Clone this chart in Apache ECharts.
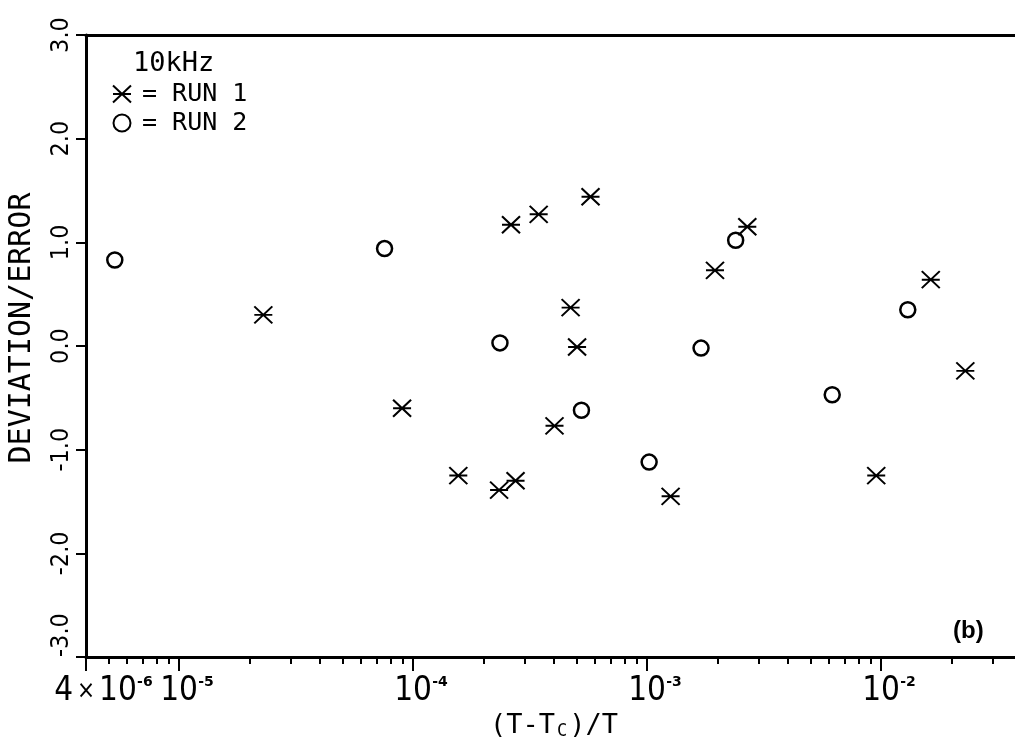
<!DOCTYPE html>
<html>
<head>
<meta charset="utf-8">
<script src="https://cdn.jsdelivr.net/npm/echarts@6/dist/echarts.min.js"></script>
<style>
  html, body { margin: 0; padding: 0; background: #ffffff; }
  #chart { width: 1015px; height: 742px; }
</style>
</head>
<body>
<div id="chart"></div>
<script>
// values
const run1X = [2.29e-5, 8.97e-5, 1.56e-4, 2.33e-4, 2.62e-4, 2.74e-4, 3.44e-4, 4.02e-4, 4.71e-4, 5.02e-4, 5.73e-4, 1.26e-3, 1.95e-3, 2.68e-3, 9.53e-3, 1.63e-2, 2.29e-2]
const run1Y = [0.30, -0.60, -1.25, -1.39, 1.17, -1.30, 1.27, -0.77, 0.37, -0.01, 1.44, -1.45, 0.73, 1.15, -1.25, 0.64, -0.24]
const run2X = [5.31e-6, 7.55e-5, 2.35e-4, 5.24e-4, 1.02e-3, 1.70e-3, 2.39e-3, 6.18e-3, 1.30e-2]
const run2Y = [0.83, 0.94, 0.03, -0.62, -1.12, -0.02, 1.02, -0.47, 0.35]

const majorTicks = [4e-6, 1e-5, 1e-4, 1e-3, 1e-2]
const decadeLabels = [1e-5, 1e-4, 1e-3, 1e-2]
const minLabel = [4e-6]
const minorTicks = []
for (let e = -6; e <= -2; e++) {
  for (let m = 2; m <= 9; m++) {
    const v = m * Math.pow(10, e)
    if (v > 4e-6 && v <= 4e-2) minorTicks.push(v)
  }
}

const FONT_NARROW = "'Liberation Sans Narrow', 'DejaVu Sans Condensed', 'Liberation Sans', sans-serif"
const FONT_MONO = "'DejaVu Sans Mono', monospace"

const asterisk = 'path://M0,0L18,17M18,0L0,17M0,8.5L18,8.5'

const chart = echarts.init(document.getElementById('chart'))

const labelRich = {
  p: { width: 16 },
  q: { width: 35 },
  a: { fontFamily: FONT_NARROW, fontSize: 33, color: '#000' },
  x: { fontFamily: FONT_NARROW, fontSize: 24, color: '#000', padding: [0, 4, 0, 4] },
  b: { fontFamily: FONT_NARROW, fontSize: 33, color: '#000' },
  s: { fontFamily: 'DejaVu Sans', fontSize: 14, fontWeight: 'bold', color: '#000', width: 16, verticalAlign: 'top' }
}

const axisBase = {
  type: 'log',
  logBase: 10,
  min: 4e-6,
  max: 4e-2,
  position: 'bottom',
  splitLine: { show: false }
}

const options = {
  animation: false,
  backgroundColor: '#ffffff',
  grid: {
    left: 86,
    top: 35,
    right: -7,
    bottom: 85,
    outerBoundsMode: 'none'
  },
  title: {
    text: '10kHz',
    left: 133,
    top: 50,
    padding: 0,
    textStyle: { fontFamily: FONT_MONO, fontSize: 27, fontWeight: 'normal', color: '#000' }
  },
  legend: {
    orient: 'vertical',
    left: 112,
    top: 81,
    padding: 0,
    itemGap: 3,
    itemWidth: 18,
    itemHeight: 17,
    selectedMode: false,
    itemStyle: { borderWidth: 2 },
    textStyle: { fontFamily: FONT_MONO, fontSize: 25, lineHeight: 26, color: '#000', padding: [0, 0, 0, 6] },
    data: ['= RUN 1', '= RUN 2']
  },
  xAxis: [
    // data axis, short ticks
    Object.assign({}, axisBase, {
      axisLine: { show: true, onZero: false, lineStyle: { color: '#000', width: 3 } },
      axisTick: { show: true, length: 7, lineStyle: { color: '#000', width: 2 }, customValues: minorTicks },
      axisLabel: { show: false }
    }),
    // long ticks + decade labels
    Object.assign({}, axisBase, {
      name: '{m|(T-T}{c|C}{m|)/T}',
      nameLocation: 'middle',
      nameGap: 48,
      nameTextStyle: {
        rich: {
          m: { fontFamily: FONT_MONO, fontSize: 27, color: '#000' },
          c: { fontFamily: FONT_MONO, fontSize: 17, color: '#000', verticalAlign: 'bottom', padding: [0, 2, 0, 2] }
        }
      },
      axisLine: { show: false, onZero: false },
      axisTick: { show: true, length: 14, lineStyle: { color: '#000', width: 2 }, customValues: majorTicks },
      axisLabel: {
        show: true,
        margin: 18,
        customValues: decadeLabels,
        formatter: v => '{p|}{b|10}{s|' + Math.round(Math.log10(v)) + '}',
        rich: labelRich
      }
    }),
    // 4x10^-6 label at the left end
    Object.assign({}, axisBase, {
      axisLine: { show: false, onZero: false },
      axisTick: { show: false },
      axisLabel: {
        show: true,
        margin: 18,
        showMinLabel: true,
        customValues: minLabel,
        formatter: () => '{q|}{a|4}{x|×}{b|10}{s|-6}',
        rich: labelRich
      }
    }),
    // frame line on top
    Object.assign({}, axisBase, {
      position: 'top',
      axisLine: { show: true, onZero: false, lineStyle: { color: '#000', width: 3 } },
      axisTick: { show: false },
      axisLabel: { show: false }
    })
  ],
  yAxis: {
    type: 'value',
    min: -3,
    max: 3,
    interval: 1,
    name: 'DEVIATION/ERROR',
    nameLocation: 'middle',
    nameGap: 49,
    nameTextStyle: { fontFamily: FONT_MONO, fontSize: 30, color: '#000', padding: [0, 0, 0, 36] },
    axisLine: { show: true, lineStyle: { color: '#000', width: 3 } },
    axisTick: { show: true, length: 10, lineStyle: { color: '#000', width: 2 } },
    axisLabel: {
      rotate: 90,
      margin: 12,
      showMinLabel: true,
      alignMinLabel: 'left',
      fontFamily: FONT_NARROW,
      fontSize: 25,
      color: '#000',
      formatter: v => v.toFixed(1)
    },
    splitLine: { show: false }
  },
  graphic: [
    {
      type: 'text',
      left: 953,
      top: 619,
      style: { text: '(b)', fontFamily: "'Liberation Sans', sans-serif", fontWeight: 'bold', fontSize: 24, fill: '#000' }
    }
  ],
  series: [
    {
      name: '= RUN 1',
      type: 'scatter',
      xAxisIndex: 0,
      symbol: asterisk,
      symbolSize: [18, 17],
      silent: true,
      itemStyle: { color: 'transparent', borderColor: '#000', borderWidth: 2, opacity: 1 },
      data: run1X.map((x, i) => [x, run1Y[i]])
    },
    {
      name: '= RUN 2',
      type: 'scatter',
      xAxisIndex: 0,
      symbol: 'circle',
      symbolSize: 15,
      silent: true,
      itemStyle: { color: 'transparent', borderColor: '#000', borderWidth: 2.5, opacity: 1 },
      data: run2X.map((x, i) => [x, run2Y[i]])
    }
  ]
}

chart.setOption(options)
</script>
</body>
</html>
